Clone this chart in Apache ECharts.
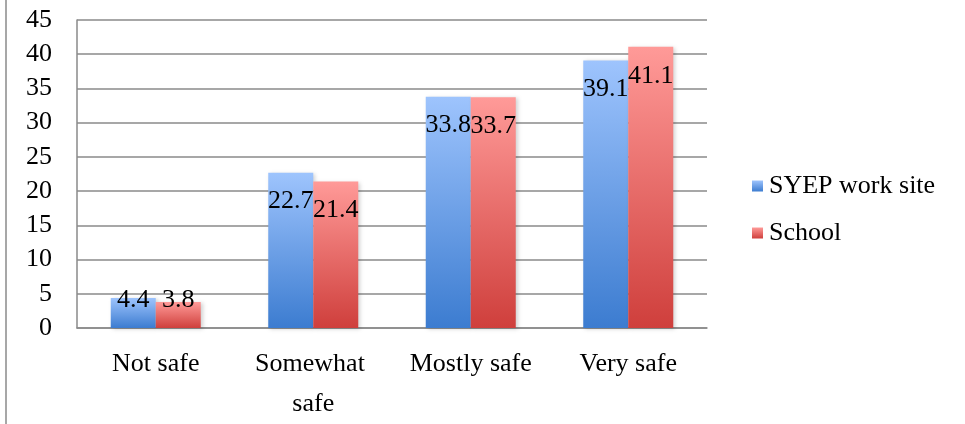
<!DOCTYPE html>
<html>
<head>
<meta charset="utf-8">
<script src="https://cdn.jsdelivr.net/npm/echarts@6/dist/echarts.min.js"></script>
<style>html,body{margin:0;padding:0;background:#fff;}#c{width:965px;height:424px;}</style>
</head>
<body>
<div id="c"></div>
<script>
var categories = ['Not safe', 'Somewhat safe', 'Mostly safe', 'Very safe'];
var syepValues = [4.4, 22.7, 33.8, 39.1];
var schoolValues = [3.8, 21.4, 33.7, 41.1];
var seriesNames = ['SYEP work site', 'School'];

var FONT = '"Liberation Serif", "DejaVu Serif", serif';
var chart = echarts.init(document.getElementById('c'));

function grad(top, bottom) {
  return new echarts.graphic.LinearGradient(0, 0, 0, 1, [
    {offset: 0, color: top}, {offset: 1, color: bottom}
  ]);
}
function buildData(vals) {
  return vals.map(function (v) {
    if (v < 10) {
      return {value: v, label: {position: 'insideBottom', distance: 15}};
    }
    return v;
  });
}
var labelStyle = {
  show: true, position: 'insideTop', distance: 16, color: '#000',
  fontFamily: FONT, fontSize: 26, lineHeight: 26
};

chart.setOption({
  animation: false,
  backgroundColor: '#fff',
  grid: {left: 77, right: 258, top: 20, bottom: 96, containLabel: false},
  legend: {
    orient: 'vertical', left: 747, top: 168,
    itemWidth: 11, itemHeight: 11, itemGap: 21,
    icon: 'rect',
    textStyle: {fontFamily: FONT, fontSize: 26, lineHeight: 26, color: '#000', padding: [0, 0, 0, 1]},
    data: seriesNames
  },
  xAxis: {
    type: 'category', data: categories,
    axisLine: {show: true, lineStyle: {color: '#8a8a8a', width: 1.5}},
    axisTick: {show: false},
    axisLabel: {
      fontFamily: FONT, fontSize: 26, lineHeight: 40, color: '#000', margin: 16,
      width: 150, overflow: 'break', interval: 0
    }
  },
  yAxis: {
    type: 'value', min: 0, max: 45, interval: 5,
    axisLine: {show: true, lineStyle: {color: '#8a8a8a', width: 1.5}},
    axisTick: {show: false},
    splitLine: {show: true, lineStyle: {color: '#8a8a8a', width: 1.5}},
    axisLabel: {fontFamily: FONT, fontSize: 26, color: '#000', margin: 25}
  },
  graphic: [{
    type: 'line', shape: {x1: 6, y1: 0, x2: 6, y2: 424},
    style: {stroke: '#8a8a8a', lineWidth: 1.5}
  }],
  series: [{
    name: seriesNames[0], type: 'bar', data: buildData(syepValues),
    barWidth: 45, barGap: '0%',
    itemStyle: {color: grad('#9ec4fd', '#3c7cd0'), shadowBlur: 4, shadowColor: 'rgba(0,0,0,0.18)', shadowOffsetX: 2, shadowOffsetY: 1},
    label: labelStyle
  }, {
    name: seriesNames[1], type: 'bar', data: buildData(schoolValues),
    barWidth: 45, barGap: '0%',
    itemStyle: {color: grad('#ff9a98', '#cf3f3c'), shadowBlur: 4, shadowColor: 'rgba(0,0,0,0.18)', shadowOffsetX: 2, shadowOffsetY: 1},
    label: labelStyle
  }]
});
</script>
</body>
</html>
